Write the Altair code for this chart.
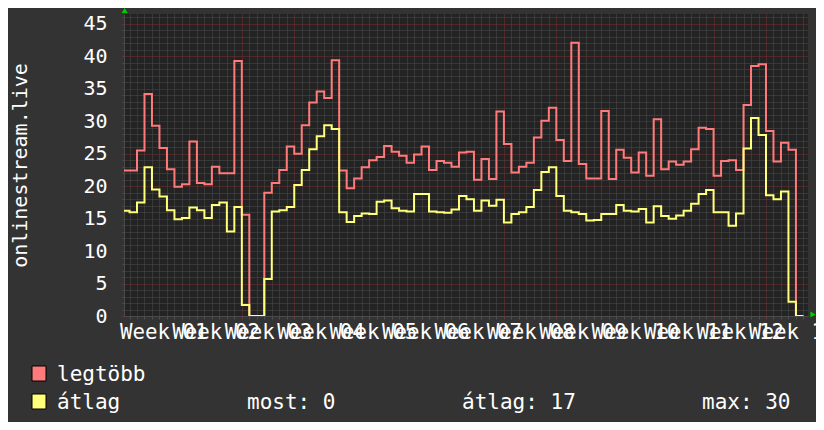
import altair as alt
import pandas as pd

# ---------------- data ----------------
# day index (0 = first major grid line / start of "Week 01"), one value per day
days = list(range(-2, 90))

legtobb = [
    22.4, 22.4, 25.5, 34.2, 29.3, 25.9, 22.6, 19.9, 20.3, 26.9,
    20.5, 20.3, 23.0, 22.0, 22.0, 39.3, 15.6, 0.0, 0.0, 19.0,
    20.5, 22.5, 26.1, 25.0, 29.4, 32.9, 34.6, 33.6, 39.4,
    22.4, 19.7, 21.2, 22.9, 24.0, 24.5, 26.2, 25.3, 24.7, 23.6,
    24.9, 26.1, 22.5, 23.9, 23.6, 23.0, 25.2, 25.3, 21.0, 24.2,
    21.1, 31.5, 26.5, 22.1, 23.0, 23.6, 27.5, 30.1, 32.1, 27.1,
    23.9, 42.1, 23.4, 21.2, 21.2, 31.6, 21.1, 25.6, 24.4, 22.1,
    25.2, 21.6, 30.3, 22.6, 23.8, 23.3, 23.8, 25.7, 29.0, 28.8,
    21.6, 23.9, 24.0, 22.5, 32.5, 38.5, 38.8, 28.5, 23.8, 26.7,
    25.6, 0.0, 0.0,
]

atlag = [
    16.2, 16.0, 17.5, 22.9, 19.5, 18.4, 16.3, 14.9, 15.1, 16.7,
    16.3, 15.1, 17.1, 17.5, 13.0, 16.8, 1.7, 0.0, 0.0, 5.7,
    16.1, 16.3, 16.8, 20.2, 22.5, 25.7, 27.7, 29.4, 28.8,
    16.0, 14.5, 15.4, 15.8, 15.7, 17.6, 17.8, 16.6, 16.2, 16.1,
    18.8, 18.8, 16.1, 16.0, 15.9, 16.4, 18.5, 18.0, 16.2, 17.8,
    17.0, 17.9, 14.4, 15.7, 16.0, 16.8, 19.4, 22.2, 22.9, 18.5,
    16.2, 16.0, 15.7, 14.7, 14.8, 15.7, 15.7, 17.1, 16.2, 16.1,
    16.5, 14.4, 16.9, 15.4, 15.0, 15.5, 16.2, 17.3, 18.8, 19.4,
    16.0, 16.0, 13.9, 15.8, 25.8, 30.5, 27.9, 18.6, 18.0, 19.2,
    2.2, 0.0, 0.0,
]

series_names = ["legtöbb", "átlag"]
series_colors = ["#ff7a7a", "#ffff7a"]

week_labels = [
    "Week 01", "Week 02", "Week 03", "Week 04", "Week 05", "Week 06", "Week 07",
    "Week 08", "Week 09", "Week 10", "Week 11", "Week 12", "Week 13",
]

stat_texts = ["most: 0", "átlag: 17", "max: 30"]
y_title = "onlinestream.live"

# ---------------- build table ----------------
rows = []
for name, vals in zip(series_names, [legtobb, atlag]):
    for d, v in zip(days, vals):
        rows.append({"day": d, "value": v, "series": name})
df = pd.DataFrame(rows)

FONT = "DejaVu Sans Mono"
BG = "#333333"
CANVAS = "#232323"
MINOR = "#4e4e4e"
MAJOR = "#7a3030"
TXT = "#ffffff"

x_grid = list(range(-1, 90))
x_label_pos = [3.5 + 7 * k for k in range(len(week_labels))]
y_grid = list(range(0, 47))
label_js = "[" + ",".join("'" + w + "'" for w in week_labels) + "]"

x_axis = alt.Axis(
    values=x_grid + x_label_pos,
    title=None,
    labelExpr="(datum.value - 3.5) % 7 == 0 ? " + label_js + "[floor(datum.value / 7)] : ''",
    labelFont=FONT, labelFontSize=20.8, labelColor=TXT,
    labelBaseline="alphabetic", labelAlign="center", labelPadding=19,
    labelOverlap=False, labelFlush=False,
    tickSize=3,
    tickColor={"condition": {"test": "datum.value % 7 == 0", "value": MAJOR}, "value": MINOR},
    tickOpacity={"condition": {"test": "datum.value % 1 != 0", "value": 0}, "value": 1},
    grid=True,
    gridColor={"condition": {"test": "datum.value % 7 == 0", "value": MAJOR}, "value": MINOR},
    gridOpacity={"condition": {"test": "datum.value % 1 != 0", "value": 0}, "value": 1},
    gridDash=[1, 1],
    domainColor="#4a4a4a",
)

y_axis = alt.Axis(
    values=y_grid,
    title=y_title,
    labelExpr="datum.value % 5 == 0 ? datum.value : ''",
    labelFont=FONT, labelFontSize=20, labelColor=TXT,
    labelPadding=15, labelOverlap=False, labelFlush=False,
    tickSize=2,
    tickColor={"condition": {"test": "datum.value % 5 == 0", "value": MAJOR}, "value": MINOR},
    grid=True,
    gridColor={"condition": {"test": "datum.value % 5 == 0", "value": MAJOR}, "value": MINOR},
    gridDash=[1, 1],
    domainColor="#4a4a4a",
    titleFont=FONT, titleFontSize=20, titleColor=TXT, titleFontWeight="normal",
    titleAngle=270, titleX=-98, titleY=151,
    titleBaseline="alphabetic", titleAlign="center",
)

x_enc = alt.X("day:Q", scale=alt.Scale(domain=[-1.736, 89.61], nice=False, zero=False), axis=x_axis)
y_enc = alt.Y("value:Q", scale=alt.Scale(domain=[0, 46.53], nice=False), axis=y_axis)
c_enc = alt.Color("series:N", scale=alt.Scale(domain=series_names, range=series_colors), legend=None)

base = alt.Chart(df)
lines = [
    base.transform_filter(alt.datum.series == name)
    .mark_line(interpolate="step-after", strokeWidth=2, clip=True)
    .encode(x=x_enc, y=y_enc, color=c_enc)
    for name in series_names
]

one = alt.Data(values=[{}])

# custom legend (positions relative to the plot area's top-left)
legend_layers = []
row_baselines = [367, 395]
for name, color, yb in zip(series_names, series_colors, row_baselines):
    legend_layers.append(
        alt.Chart(one).mark_rect(fill=color, stroke="#000000", strokeWidth=1).encode(
            x=alt.value(-92), x2=alt.value(-78), y=alt.value(yb - 15), y2=alt.value(yb)
        )
    )
    legend_layers.append(
        alt.Chart(one).mark_text(
            text=name, align="left", baseline="alphabetic", font=FONT, fontSize=21, color=TXT
        ).encode(x=alt.value(-67), y=alt.value(yb))
    )
for txt, xp in zip(stat_texts, [123, 338, 578]):
    legend_layers.append(
        alt.Chart(one).mark_text(
            text=txt, align="left", baseline="alphabetic", font=FONT, fontSize=21, color=TXT
        ).encode(x=alt.value(xp), y=alt.value(row_baselines[1]))
    )

# axis arrows
arrows = [
    alt.Chart(one).mark_point(shape="triangle-up", filled=True, size=36, color="#00cc00", opacity=1)
    .encode(x=alt.value(0.7), y=alt.value(-3.5)),
    alt.Chart(one).mark_point(shape="triangle-right", filled=True, size=36, color="#00cc00", opacity=1)
    .encode(x=alt.value(689), y=alt.value(300.5)),
]

chart = alt.layer(*lines, *legend_layers, *arrows).properties(
    width=684,
    height=302,
    autosize=alt.AutoSizeParams(type="none"),
    padding={"left": 116, "top": 6, "right": 8, "bottom": 106},
).configure(background=BG, font=FONT).configure_view(fill=CANVAS, strokeWidth=0)

chart.save("out.html", embed_options={"renderer": "svg", "actions": False})
